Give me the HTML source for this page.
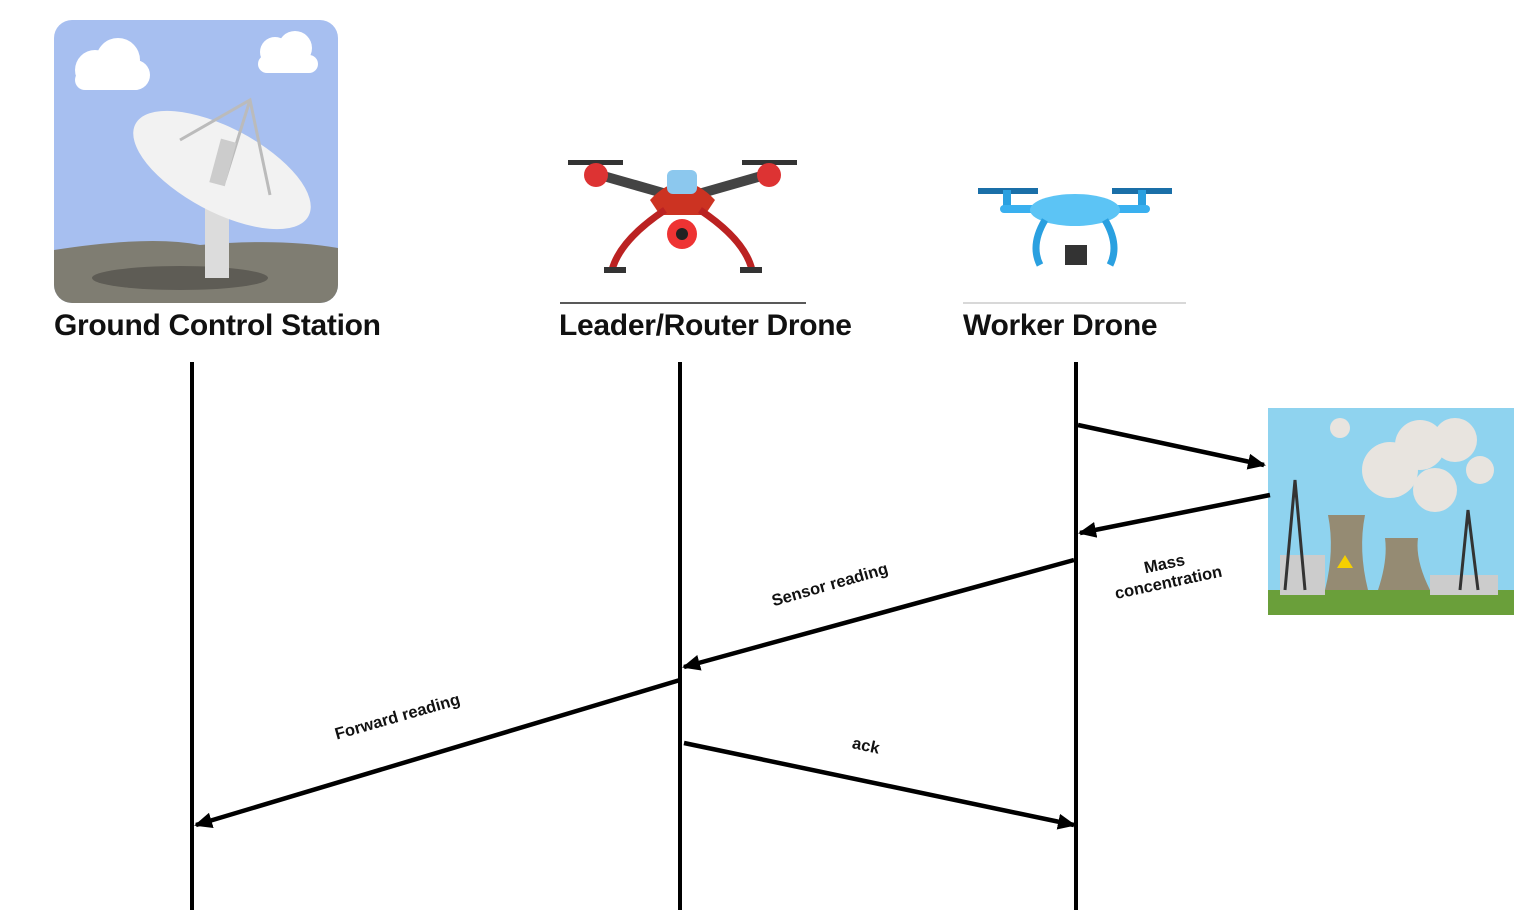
<!DOCTYPE html>
<html><head><meta charset="utf-8"><style>
html,body{margin:0;padding:0;background:#fff;}
body{width:1538px;height:910px;position:relative;overflow:hidden;font-family:"Liberation Sans",sans-serif;}
.t{position:absolute;font-weight:bold;font-size:30px;color:#111;white-space:nowrap;letter-spacing:-0.3px;}
.l{position:absolute;font-weight:bold;font-size:16.5px;color:#111;white-space:nowrap;text-align:center;line-height:19px;}
</style></head><body>
<svg width="1538" height="910" style="position:absolute;left:0;top:0">
<defs>
<marker id="b" markerWidth="18" markerHeight="16" refX="16" refY="8" orient="auto" markerUnits="userSpaceOnUse" viewBox="0 0 18 16">
<path d="M0,0 L18,8 L0,16 z" fill="#000"/></marker>
<clipPath id="gc"><rect x="54" y="20" width="284" height="283" rx="18"/></clipPath>
</defs>
<g clip-path="url(#gc)">
<rect x="54" y="20" width="284" height="283" fill="#a7bff0"/>
<path d="M54,250 Q150,235 200,245 Q280,238 338,248 L338,303 L54,303z" fill="#7f7d72"/>
<ellipse cx="180" cy="278" rx="88" ry="12" fill="#5e5c55"/>
<rect x="205" y="190" width="24" height="88" fill="#dcdcdc"/>
<ellipse cx="222" cy="170" rx="98" ry="42" transform="rotate(28 222 170)" fill="#f2f2f2"/>
<path d="M180,140 L250,100 L270,195 M250,100 L225,180" stroke="#bbb" stroke-width="3" fill="none"/>
<rect x="215" y="140" width="16" height="45" fill="#ccc" transform="rotate(15 223 162)"/>
<g fill="#fff"><circle cx="95" cy="70" r="20"/><circle cx="118" cy="60" r="22"/><circle cx="135" cy="75" r="15"/><rect x="75" y="70" width="70" height="20" rx="10"/>
<circle cx="275" cy="52" r="15"/><circle cx="295" cy="48" r="17"/><rect x="258" y="55" width="60" height="18" rx="9"/></g>
</g>
<g>
<path d="M600,175 L670,195 M765,175 L695,195" stroke="#444" stroke-width="10"/>
<rect x="568" y="160" width="55" height="5" fill="#333"/><rect x="742" y="160" width="55" height="5" fill="#333"/>
<circle cx="596" cy="175" r="12" fill="#d33"/><circle cx="769" cy="175" r="12" fill="#d33"/>
<path d="M650,200 Q682,165 715,200 L705,215 L660,215z" fill="#c32"/>
<rect x="667" y="170" width="30" height="24" rx="6" fill="#8cc8ee"/>
<path d="M665,210 Q620,240 612,270 M700,210 Q745,240 752,270" stroke="#b22" stroke-width="7" fill="none"/>
<rect x="604" y="267" width="22" height="6" fill="#333"/><rect x="740" y="267" width="22" height="6" fill="#333"/>
<circle cx="682" cy="234" r="15" fill="#e33"/><circle cx="682" cy="234" r="6" fill="#222"/>
</g>
<g>
<rect x="978" y="188" width="60" height="6" fill="#1a6fa8"/><rect x="1112" y="188" width="60" height="6" fill="#1a6fa8"/>
<rect x="1003" y="190" width="8" height="20" fill="#2aa0e0"/><rect x="1138" y="190" width="8" height="20" fill="#2aa0e0"/>
<rect x="1000" y="205" width="150" height="8" rx="4" fill="#3ab0ef"/>
<ellipse cx="1075" cy="210" rx="45" ry="16" fill="#5cc4f5"/>
<path d="M1045,220 Q1030,245 1040,265 M1105,220 Q1120,245 1110,265" stroke="#2aa0e0" stroke-width="7" fill="none"/>
<rect x="1065" y="245" width="22" height="20" fill="#333"/>
</g>
<line x1="560" y1="303" x2="806" y2="303" stroke="#222" stroke-width="1.5"/>
<line x1="963" y1="303" x2="1186" y2="303" stroke="#ccc" stroke-width="1.5"/>
<rect x="1268" y="408" width="246" height="207" fill="#8fd3ef"/>
<rect x="1268" y="590" width="246" height="25" fill="#6a9f3a"/>
<g fill="#e8e4df"><circle cx="1390" cy="470" r="28"/><circle cx="1420" cy="445" r="25"/><circle cx="1455" cy="440" r="22"/><circle cx="1435" cy="490" r="22"/><circle cx="1340" cy="428" r="10"/><circle cx="1480" cy="470" r="14"/></g>
<path d="M1325,590 Q1335,550 1328,515 L1365,515 Q1358,550 1368,590z" fill="#958b73"/>
<path d="M1378,590 Q1388,560 1385,538 L1418,538 Q1415,560 1430,590z" fill="#958b73"/>
<rect x="1280" y="555" width="45" height="40" fill="#ccc"/>
<rect x="1430" y="575" width="68" height="20" fill="#ccc"/>
<path d="M1285,590 L1295,480 L1305,590 M1460,590 L1468,510 L1478,590" stroke="#333" stroke-width="3" fill="none"/>
<path d="M1345,555 L1337,568 L1353,568z" fill="#f5d000"/>
<g stroke="#000" stroke-width="4">
<line x1="192" y1="362" x2="192" y2="910"/>
<line x1="680" y1="362" x2="680" y2="910"/>
<line x1="1076" y1="362" x2="1076" y2="910"/>
</g>
<g stroke="#000" stroke-width="4.5">
<line x1="1078" y1="425" x2="1264" y2="465" marker-end="url(#b)"/>
<line x1="1270" y1="495" x2="1080" y2="533" marker-end="url(#b)"/>
<line x1="1074" y1="560" x2="684" y2="667" marker-end="url(#b)"/>
<line x1="680" y1="680" x2="196" y2="825" marker-end="url(#b)"/>
<line x1="684" y1="743" x2="1074" y2="825" marker-end="url(#b)"/>
</g>
</svg>
<div class="t" style="left:54px;top:309px">Ground Control Station</div>
<div class="t" style="left:559px;top:309px">Leader/Router Drone</div>
<div class="t" style="left:963px;top:309px">Worker Drone</div>
<div class="l" style="left:770px;top:576px;transform:rotate(-16deg)">Sensor reading</div>
<div class="l" style="left:333px;top:708px;transform:rotate(-16deg)">Forward reading</div>
<div class="l" style="left:852px;top:737px;transform:rotate(12deg)">ack</div>
<div class="l" style="left:1112px;top:555px;transform:rotate(-12deg)">Mass<br>concentration</div>
</body></html>
